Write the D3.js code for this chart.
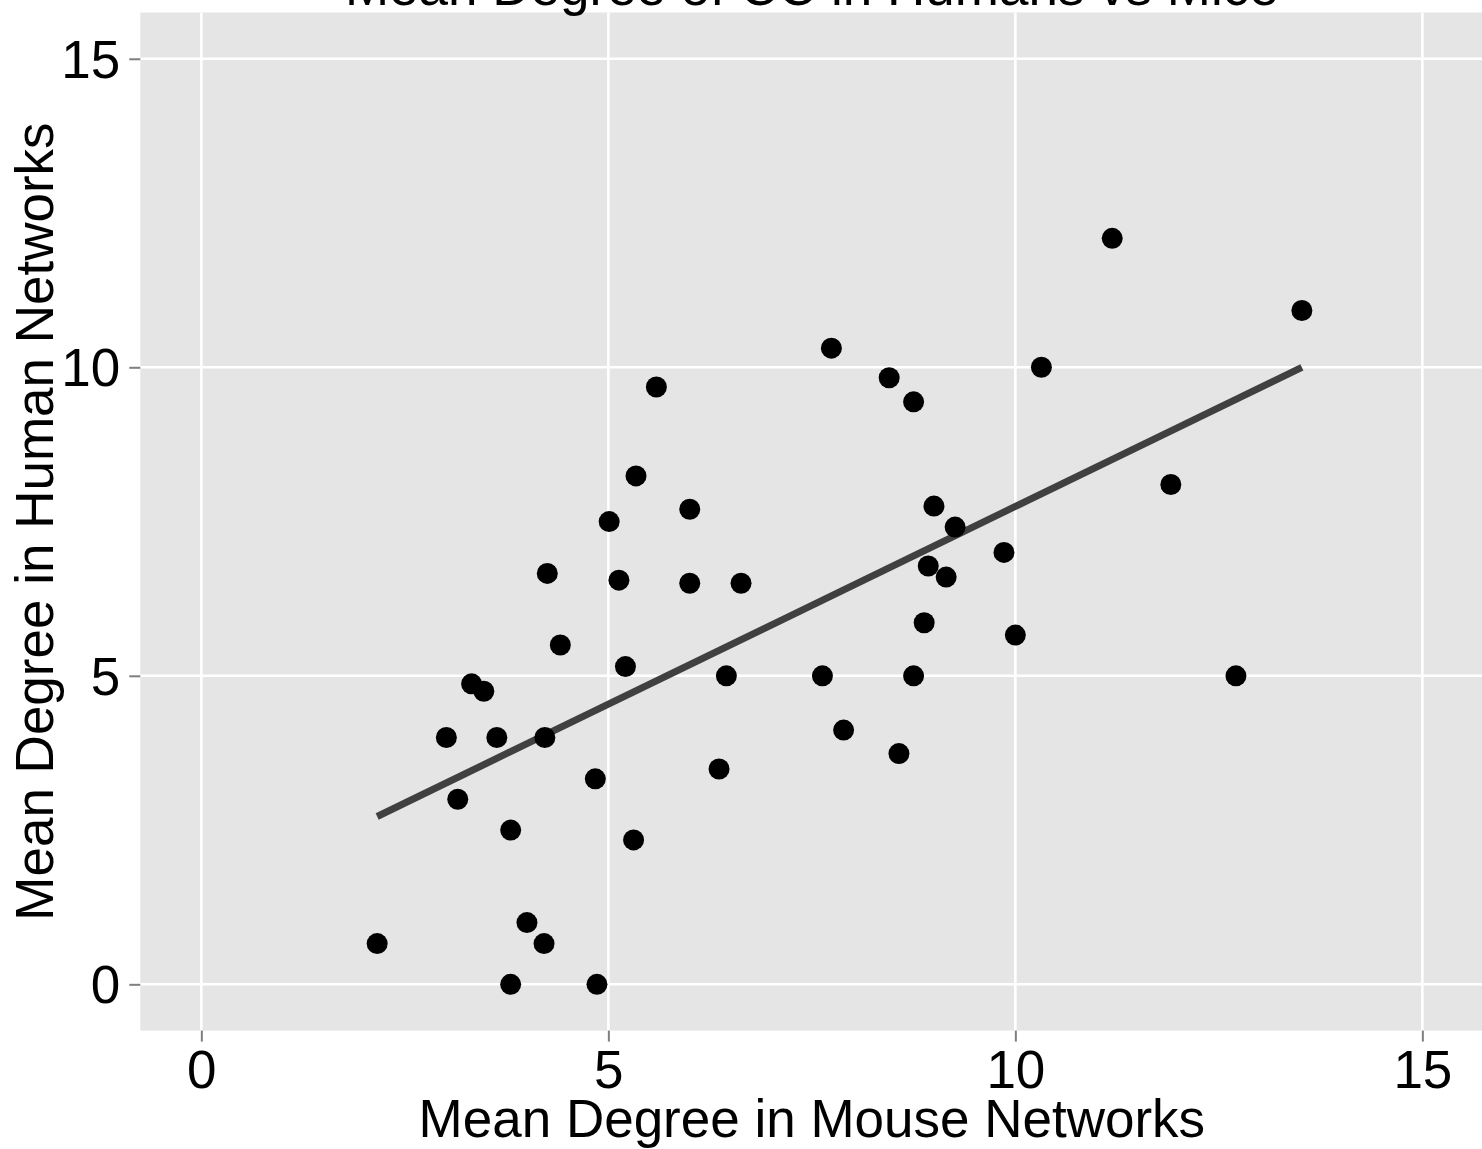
<!DOCTYPE html>
<html>
<head>
<meta charset="utf-8">
<script src="https://cdn.jsdelivr.net/npm/d3@7"></script>
<style>
  html, body { margin: 0; padding: 0; background: #ffffff; }
  svg { display: block; }
  text { font-family: "Liberation Sans", Arial, Helvetica, sans-serif; }
</style>
</head>
<body>
<svg id="chart" width="1482" height="1149"></svg>
<script>
// Mean degree of each CC term: mouse networks (x) vs human networks (y)
const mouseDegree = [
  2.16, 3.01, 3.15, 3.32, 3.47, 3.63, 3.80, 3.80, 4.00, 4.21,
  4.22, 4.25, 4.41, 4.84, 4.86, 5.01, 5.13, 5.21, 5.31, 5.34,
  5.59, 6.00, 6.00, 6.36, 6.45, 6.63, 7.63, 7.74, 7.89, 8.45,
  8.57, 8.75, 8.75, 8.88, 8.93, 9.00, 9.15, 9.26, 9.86, 10.00,
  10.32, 11.19, 11.91, 12.71, 13.52
];
const humanDegree = [
  0.66, 4.00, 3.00, 4.87, 4.75, 4.00, 2.50, 0.00, 1.00, 0.66,
  4.00, 6.66, 5.50, 3.33, 0.00, 7.50, 6.55, 5.15, 2.34, 8.24,
  9.68, 7.70, 6.50, 3.49, 5.00, 6.50, 5.00, 10.31, 4.12, 9.83,
  3.74, 9.44, 5.00, 5.86, 6.78, 7.75, 6.60, 7.41, 7.00, 5.66,
  10.00, 12.09, 8.10, 5.00, 10.92
];

// Fitted linear trend, evaluated at the smallest and largest mouse degree
const fitX = [2.16, 13.52];
const fitY = [2.72, 10.00];

const tickValues = [0, 5, 10, 15];
const axisDomain = [-0.75, 15.75];

const titleText = "Mean Degree of CC in Humans vs Mice";
const xTitleText = "Mean Degree in Mouse Networks";
const yTitleText = "Mean Degree in Human Networks";

const svg = d3.select("#chart");

const panel = { left: 140.3, right: 1483.4, top: 12.5, bottom: 1030.6 };

const x = d3.scaleLinear().domain(axisDomain).range([panel.left, panel.right]);
const y = d3.scaleLinear().domain(axisDomain).range([panel.bottom, panel.top]);

// panel background
svg.append("rect")
  .attr("x", panel.left)
  .attr("y", panel.top)
  .attr("width", panel.right - panel.left)
  .attr("height", panel.bottom - panel.top)
  .attr("fill", "#e5e5e5");

// major grid lines
const grid = svg.append("g").attr("stroke", "#ffffff").attr("stroke-width", 2.6);
grid.selectAll("line.v").data(tickValues).join("line")
  .attr("class", "v")
  .attr("x1", d => x(d)).attr("x2", d => x(d))
  .attr("y1", panel.top).attr("y2", panel.bottom);
grid.selectAll("line.h").data(tickValues).join("line")
  .attr("class", "h")
  .attr("y1", d => y(d)).attr("y2", d => y(d))
  .attr("x1", panel.left).attr("x2", panel.right);

// regression line
const pts = d3.zip(mouseDegree, humanDegree);
svg.append("path")
  .datum(d3.zip(fitX, fitY))
  .attr("fill", "none")
  .attr("stroke", "#404040")
  .attr("stroke-width", 7)
  .attr("d", d3.line().x(d => x(d[0])).y(d => y(d[1])));

// points
svg.append("g").selectAll("circle").data(pts).join("circle")
  .attr("cx", d => x(d[0]))
  .attr("cy", d => y(d[1]))
  .attr("r", 10.5)
  .attr("fill", "#000000");

// axes
const xAxis = svg.append("g")
  .attr("transform", `translate(0,${panel.bottom})`)
  .call(d3.axisBottom(x).tickValues(tickValues).tickFormat(d3.format("d")).tickSize(11).tickPadding(9));
const yAxis = svg.append("g")
  .attr("transform", `translate(${panel.left},0)`)
  .call(d3.axisLeft(y).tickValues(tickValues).tickFormat(d3.format("d")).tickSize(11).tickPadding(9));

[xAxis, yAxis].forEach(g => {
  g.select(".domain").remove();
  g.selectAll(".tick line").attr("stroke", "#7f7f7f").attr("stroke-width", 2);
  g.selectAll(".tick text")
    .attr("fill", "#000000")
    .style("font-size", "53px")
    .style("font-family", "'Liberation Sans', Arial, sans-serif");
});
xAxis.selectAll(".tick text").attr("dy", null).attr("y", null)
  .attr("dominant-baseline", null)
  .attr("transform", null)
  .attr("y", 1088 - panel.bottom);
yAxis.selectAll(".tick text").attr("dy", "0.35em");

// titles
svg.append("text")
  .attr("x", (panel.left + panel.right) / 2)
  .attr("y", 5)
  .attr("text-anchor", "middle")
  .style("font-size", "53px")
  .attr("fill", "#000000")
  .text(titleText);

svg.append("text")
  .attr("x", (panel.left + panel.right) / 2)
  .attr("y", 1137)
  .attr("text-anchor", "middle")
  .style("font-size", "53px")
  .attr("fill", "#000000")
  .text(xTitleText);

svg.append("text")
  .attr("transform", `translate(53,${(panel.top + panel.bottom) / 2}) rotate(-90)`)
  .attr("text-anchor", "middle")
  .style("font-size", "53px")
  .attr("fill", "#000000")
  .text(yTitleText);
</script>
</body>
</html>
